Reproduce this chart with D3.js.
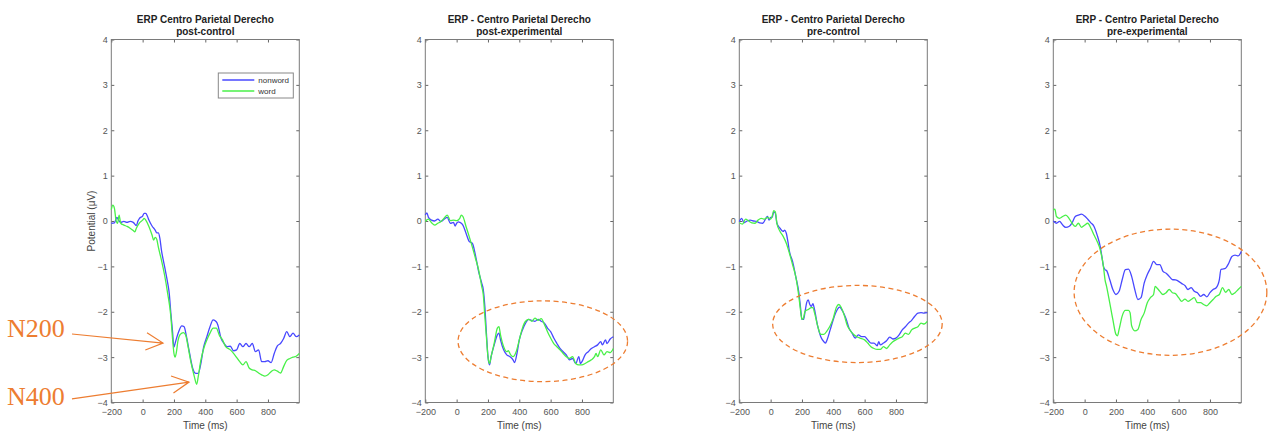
<!DOCTYPE html>
<html>
<head>
<meta charset="utf-8">
<script src="https://cdn.jsdelivr.net/npm/d3@7"></script>
<style>
  html, body { margin: 0; padding: 0; background: #fff; }
  svg { display: block; font-family: Arial, "Liberation Sans", Helvetica, sans-serif; }
</style>
</head>
<body>
<svg id="chart" width="1268" height="431"></svg>
<script>
// ---- data -------------------------------------------------------------
const titleLine1 = [
  "ERP Centro Parietal Derecho",
  "ERP - Centro Parietal Derecho",
  "ERP - Centro Parietal Derecho",
  "ERP - Centro Parietal Derecho"
];
const conditions = ["post-control", "post-experimental", "pre-control", "pre-experimental"];
const seriesNames = ["nonword", "word"];
const xTicks = [-200, 0, 200, 400, 600, 800];
const yTicks = [-4, -3, -2, -1, 0, 1, 2, 3, 4];
const timeDomain = [-200, 1000];
const potentialDomain = [-4, 4];

// [time (ms), potential (µV)]
const postControlNonword = [[-200,-0.05],[-180,-0.04],[-165,0.08],[-150,0.0],[-140,-0.03],[-120,-0.01],[-100,-0.03],[-80,-0.01],[-60,-0.03],[-40,-0.1],[-30,0.0],[-20,0.06],[0,0.11],[10,0.17],[20,0.17],[30,0.11],[40,0.02],[60,-0.11],[80,-0.2],[90,-0.26],[100,-0.26],[110,-0.38],[120,-0.64],[140,-1.0],[160,-1.37],[170,-1.6],[180,-2.03],[190,-2.4],[200,-2.78],[210,-2.66],[230,-2.44],[250,-2.31],[265,-2.33],[280,-2.55],[300,-2.92],[320,-3.25],[340,-3.36],[355,-3.36],[370,-3.17],[390,-2.77],[410,-2.55],[430,-2.33],[450,-2.18],[470,-2.22],[480,-2.29],[500,-2.58],[520,-2.7],[540,-2.77],[560,-2.76],[580,-2.86],[600,-2.84],[620,-2.7],[640,-2.77],[660,-2.7],[680,-2.77],[700,-2.7],[720,-2.88],[740,-2.84],[760,-3.1],[780,-3.1],[800,-3.08],[820,-3.12],[840,-2.92],[860,-2.75],[880,-2.7],[900,-2.59],[920,-2.44],[940,-2.55],[960,-2.47],[980,-2.55],[1000,-2.51]];
const postControlWord = [[-200,0.25],[-190,0.35],[-180,0.28],[-170,0.02],[-160,-0.05],[-150,0.13],[-140,-0.05],[-120,-0.09],[-100,-0.12],[-80,-0.16],[-60,-0.21],[-50,-0.24],[-40,-0.16],[-20,-0.04],[0,0.02],[10,0.06],[20,0.02],[40,-0.12],[60,-0.31],[70,-0.42],[80,-0.36],[90,-0.4],[100,-0.57],[120,-0.86],[140,-1.19],[160,-1.6],[180,-2.1],[190,-2.55],[200,-2.92],[207,-3.0],[215,-2.9],[225,-2.65],[240,-2.5],[260,-2.46],[275,-2.52],[290,-2.77],[310,-3.14],[330,-3.43],[345,-3.6],[355,-3.43],[370,-3.1],[390,-2.81],[410,-2.62],[430,-2.47],[450,-2.36],[470,-2.36],[490,-2.52],[510,-2.62],[530,-2.77],[560,-2.84],[590,-2.96],[620,-3.1],[640,-3.17],[660,-3.1],[680,-3.24],[700,-3.28],[720,-3.3],[740,-3.35],[760,-3.39],[780,-3.42],[800,-3.39],[820,-3.32],[840,-3.28],[860,-3.31],[880,-3.35],[900,-3.21],[920,-3.07],[940,-3.03],[960,-3.0],[980,-2.98],[1000,-2.92]];

const postExpNonword = [[-200,0.13],[-190,0.18],[-180,0.08],[-160,0.02],[-140,0.0],[-120,0.04],[-100,-0.01],[-80,0.04],[-60,0.08],[-40,-0.05],[-20,-0.03],[-10,-0.11],[0,-0.05],[10,-0.02],[20,-0.03],[40,-0.09],[60,-0.27],[80,-0.45],[100,-0.49],[120,-0.75],[140,-1.11],[160,-1.37],[170,-1.51],[180,-1.88],[190,-2.47],[200,-2.99],[210,-3.17],[220,-2.99],[240,-2.73],[260,-2.51],[270,-2.47],[280,-2.62],[300,-2.84],[320,-2.95],[340,-2.99],[360,-3.06],[370,-3.12],[385,-2.92],[400,-2.62],[420,-2.4],[440,-2.25],[460,-2.17],[480,-2.19],[500,-2.21],[520,-2.17],[540,-2.21],[560,-2.25],[580,-2.36],[600,-2.44],[620,-2.58],[640,-2.7],[660,-2.81],[680,-2.88],[700,-2.95],[720,-3.06],[740,-3.03],[760,-3.14],[780,-2.99],[790,-3.14],[800,-3.1],[820,-2.95],[840,-2.88],[860,-2.81],[880,-2.77],[900,-2.73],[920,-2.66],[930,-2.73],[950,-2.62],[960,-2.7],[980,-2.6],[1000,-2.55]];
const postExpWord = [[-200,-0.01],[-180,0.04],[-160,-0.04],[-140,-0.09],[-120,-0.05],[-100,-0.01],[-80,0.06],[-60,0.13],[-40,0.01],[-20,0.02],[0,0.01],[20,0.06],[30,0.13],[40,0.1],[60,-0.12],[80,-0.34],[100,-0.57],[120,-0.82],[140,-1.07],[160,-1.44],[170,-1.62],[180,-2.1],[190,-2.55],[200,-2.99],[210,-3.14],[220,-2.99],[240,-2.69],[260,-2.36],[270,-2.33],[280,-2.51],[300,-2.77],[320,-2.88],[330,-2.86],[345,-2.95],[360,-2.99],[380,-2.88],[400,-2.62],[420,-2.36],[440,-2.21],[460,-2.17],[480,-2.21],[500,-2.14],[520,-2.19],[540,-2.15],[560,-2.28],[580,-2.44],[600,-2.58],[620,-2.7],[640,-2.77],[660,-2.84],[680,-2.92],[700,-2.99],[720,-3.03],[740,-2.99],[760,-3.14],[780,-3.17],[800,-3.17],[820,-3.14],[840,-3.1],[860,-3.06],[880,-2.99],[890,-2.92],[900,-2.99],[920,-2.84],[940,-2.95],[960,-2.88],[980,-2.9],[1000,-2.81]];

const preControlNonword = [[-200,-0.01],[-185,0.06],[-170,-0.04],[-150,0.0],[-130,0.02],[-110,0.0],[-90,-0.01],[-70,-0.04],[-50,-0.05],[-30,0.06],[-20,0.1],[-10,0.02],[0,0.08],[10,0.08],[20,0.2],[30,0.17],[40,-0.05],[60,-0.16],[80,-0.23],[90,-0.2],[100,-0.27],[110,-0.45],[120,-0.67],[140,-0.89],[160,-1.22],[180,-1.58],[190,-1.88],[200,-2.17],[210,-2.17],[220,-1.99],[230,-1.8],[240,-1.74],[250,-1.84],[260,-1.88],[270,-1.82],[280,-1.95],[300,-2.31],[320,-2.55],[340,-2.66],[350,-2.69],[360,-2.62],[380,-2.4],[400,-2.17],[420,-1.99],[440,-1.9],[460,-1.99],[480,-2.14],[500,-2.36],[520,-2.47],[540,-2.58],[560,-2.51],[580,-2.55],[600,-2.55],[620,-2.62],[640,-2.69],[660,-2.69],[680,-2.75],[690,-2.66],[700,-2.73],[720,-2.69],[740,-2.64],[760,-2.56],[780,-2.6],[800,-2.58],[820,-2.51],[840,-2.4],[860,-2.33],[880,-2.25],[900,-2.19],[920,-2.1],[940,-2.03],[960,-2.02],[980,-2.03],[1000,-2.02]];
const preControlWord = [[-200,-0.04],[-180,-0.07],[-160,0.04],[-140,0.0],[-120,-0.04],[-100,-0.05],[-80,0.02],[-60,0.06],[-40,0.04],[-20,0.08],[0,0.04],[10,0.11],[20,0.23],[30,0.2],[40,-0.05],[60,-0.23],[80,-0.34],[100,-0.49],[120,-0.71],[140,-0.96],[160,-1.22],[180,-1.66],[190,-1.95],[200,-2.17],[210,-2.13],[220,-1.99],[240,-1.95],[260,-1.91],[270,-1.91],[280,-2.02],[300,-2.31],[320,-2.5],[340,-2.5],[360,-2.42],[380,-2.31],[400,-2.14],[420,-1.9],[435,-1.84],[450,-1.9],[470,-2.08],[490,-2.31],[510,-2.42],[530,-2.5],[550,-2.55],[570,-2.58],[600,-2.62],[620,-2.69],[640,-2.77],[660,-2.81],[680,-2.83],[700,-2.83],[720,-2.77],[740,-2.81],[760,-2.73],[780,-2.66],[800,-2.62],[820,-2.58],[840,-2.55],[860,-2.47],[880,-2.5],[900,-2.4],[920,-2.36],[940,-2.33],[960,-2.25],[980,-2.27],[1000,-2.21]];

const preExpNonword = [[-200,0.0],[-180,-0.05],[-160,-0.01],[-140,-0.09],[-120,-0.14],[-100,-0.12],[-80,-0.04],[-60,0.1],[-40,0.13],[-20,0.15],[0,0.11],[20,0.04],[40,-0.04],[60,-0.12],[80,-0.31],[100,-0.57],[110,-0.78],[120,-1.0],[130,-1.07],[140,-1.09],[160,-1.29],[180,-1.51],[200,-1.62],[220,-1.55],[240,-1.29],[260,-1.07],[280,-1.06],[300,-1.22],[320,-1.51],[340,-1.73],[360,-1.69],[380,-1.37],[400,-1.18],[420,-1.04],[440,-0.89],[460,-0.96],[480,-0.96],[500,-1.11],[520,-1.15],[540,-1.22],[560,-1.29],[580,-1.3],[600,-1.33],[620,-1.38],[640,-1.42],[660,-1.51],[680,-1.47],[700,-1.55],[720,-1.58],[740,-1.66],[760,-1.62],[780,-1.67],[800,-1.58],[820,-1.51],[840,-1.47],[860,-1.29],[870,-1.07],[880,-1.06],[900,-1.04],[920,-0.93],[940,-0.78],[960,-0.75],[980,-0.77],[1000,-0.67]];
const preExpWord = [[-200,0.24],[-190,0.26],[-180,0.1],[-160,0.06],[-140,0.1],[-120,0.13],[-100,0.06],[-80,-0.05],[-60,-0.12],[-40,-0.05],[-20,-0.14],[0,-0.09],[20,-0.05],[40,-0.16],[60,-0.31],[80,-0.45],[100,-0.64],[120,-1.0],[130,-1.29],[140,-1.44],[160,-1.8],[180,-2.17],[200,-2.5],[210,-2.53],[220,-2.39],[240,-2.09],[260,-1.97],[280,-1.97],[290,-2.02],[300,-2.31],[320,-2.42],[340,-2.39],[360,-2.17],[380,-2.03],[400,-1.8],[420,-1.69],[440,-1.62],[450,-1.44],[460,-1.47],[480,-1.55],[500,-1.62],[520,-1.58],[540,-1.51],[560,-1.58],[580,-1.6],[600,-1.69],[620,-1.77],[640,-1.72],[660,-1.77],[680,-1.73],[700,-1.69],[720,-1.8],[740,-1.8],[760,-1.84],[780,-1.87],[800,-1.8],[820,-1.73],[840,-1.66],[860,-1.62],[880,-1.47],[900,-1.57],[920,-1.51],[940,-1.62],[960,-1.58],[980,-1.51],[1000,-1.44]];

const panelSeries = [
  [postControlNonword, postControlWord],
  [postExpNonword, postExpWord],
  [preControlNonword, preControlWord],
  [preExpNonword, preExpWord]
];

// highlighted windows: [panel, centre ms, centre µV, half-width ms, half-height µV]
const highlightEllipses = [
  [1, 550, -2.65, 541, 0.89],
  [2, 554, -2.27, 541, 0.85],
  [3, 548, -1.57, 615, 1.39]
];
// component labels on the first panel: [text, label ms, label µV, tail ms, tail µV, tip ms, tip µV]
const componentArrows = [
  ["N200", -866, -2.56, -451, -2.49, 130, -2.69],
  ["N400", -866, -4.06, -451, -3.92, 296, -3.55]
];

// ---- layout -----------------------------------------------------------
const plotW = 188, plotTop = 39.5, plotBottom = 402.5;
const firstLeft = 111.3, panelStep = 314;
const lineColors = ["#4848ff", "#48f048"];
const accent = "#ED7D31";

const svg = d3.select("#chart");

panelSeries.forEach((series, i) => {
  const left = firstLeft + i * panelStep;
  const x = d3.scaleLinear().domain(timeDomain).range([left, left + plotW]);
  const y = d3.scaleLinear().domain(potentialDomain).range([plotBottom, plotTop]);
  const g = svg.append("g");

  // titles
  const cx = left + plotW / 2;
  g.append("text").attr("x", cx).attr("y", 22.5).attr("text-anchor", "middle")
    .attr("font-size", 10).attr("font-weight", "bold").attr("fill", "#222")
    .text(titleLine1[i]);
  g.append("text").attr("x", cx).attr("y", 35).attr("text-anchor", "middle")
    .attr("font-size", 10).attr("font-weight", "bold").attr("fill", "#222")
    .text(conditions[i]);

  // axes with inward ticks on all four sides
  const styleAxis = sel => {
    sel.select(".domain").remove();
    sel.selectAll(".tick line").attr("stroke", "#666");
    sel.selectAll(".tick text").attr("fill", "#555").attr("font-size", 9)
      .attr("font-family", "Arial, 'Liberation Sans', Helvetica, sans-serif");
  };
  g.append("g").attr("transform", `translate(0,${plotBottom})`)
    .call(d3.axisBottom(x).tickValues(xTicks).tickSizeInner(-3).tickSizeOuter(0).tickPadding(6))
    .call(styleAxis);
  g.append("g").attr("transform", `translate(0,${plotTop})`)
    .call(d3.axisTop(x).tickValues(xTicks).tickSizeInner(-3).tickSizeOuter(0).tickFormat(""))
    .call(styleAxis);
  g.append("g").attr("transform", `translate(${left},0)`)
    .call(d3.axisLeft(y).tickValues(yTicks).tickSizeInner(-3).tickSizeOuter(0).tickPadding(3.5))
    .call(styleAxis);
  g.append("g").attr("transform", `translate(${left + plotW},0)`)
    .call(d3.axisRight(y).tickValues(yTicks).tickSizeInner(-3).tickSizeOuter(0).tickFormat(""))
    .call(styleAxis);

  // box
  g.append("rect").attr("x", left).attr("y", plotTop)
    .attr("width", plotW).attr("height", plotBottom - plotTop)
    .attr("fill", "none").attr("stroke", "#7a7a7a").attr("stroke-width", 1);

  // axis labels
  g.append("text").attr("x", cx).attr("y", 429).attr("text-anchor", "middle")
    .attr("font-size", 10).attr("fill", "#444").text("Time (ms)");
  if (i === 0) {
    g.append("text")
      .attr("transform", `translate(95,${(plotTop + plotBottom) / 2}) rotate(-90)`)
      .attr("text-anchor", "middle").attr("font-size", 10).attr("fill", "#444")
      .text("Potential (μV)");
  }

  // waveforms
  const line = d3.line().x(d => x(d[0])).y(d => y(d[1])).curve(d3.curveMonotoneX);
  series.forEach((s, k) => {
    g.append("path").datum(s).attr("d", line)
      .attr("fill", "none").attr("stroke", lineColors[k])
      .attr("stroke-width", 1.3).attr("stroke-linejoin", "round");
  });

  // legend (first panel)
  if (i === 0) {
    const lx = left + plotW - 81, ly = 73;
    const lg = g.append("g");
    lg.append("rect").attr("x", lx).attr("y", ly).attr("width", 75).attr("height", 25)
      .attr("fill", "#fff").attr("stroke", "#888").attr("stroke-width", 1);
    seriesNames.forEach((name, k) => {
      const yy = ly + 7 + k * 11;
      lg.append("line").attr("x1", lx + 4).attr("x2", lx + 36).attr("y1", yy).attr("y2", yy)
        .attr("stroke", lineColors[k]).attr("stroke-width", 1.3);
      lg.append("text").attr("x", lx + 40).attr("y", yy + 3).attr("font-size", 8)
        .attr("fill", "#333").text(name);
    });
  }

  // highlighted windows
  highlightEllipses.filter(e => e[0] === i).forEach(e => {
    g.append("ellipse")
      .attr("cx", x(e[1])).attr("cy", y(e[2]))
      .attr("rx", x(e[1] + e[3]) - x(e[1])).attr("ry", y(e[2] - e[4]) - y(e[2]))
      .attr("fill", "none").attr("stroke", accent).attr("stroke-width", 1.3)
      .attr("stroke-dasharray", "5,3.5");
  });

  // component arrows
  if (i === 0) {
    componentArrows.forEach(a => {
      const [label, lt, lv, t0, v0, t1, v1] = a;
      g.append("text").attr("x", x(lt)).attr("y", y(lv))
        .attr("font-family", "'Liberation Serif', 'Times New Roman', serif")
        .attr("font-size", 26).attr("fill", accent).text(label);
      const x0 = x(t0), y0 = y(v0), x1 = x(t1), y1 = y(v1);
      const ang = Math.atan2(y1 - y0, x1 - x0);
      const arm = 19, spread = 27 * Math.PI / 180;
      const p = d3.path();
      p.moveTo(x0, y0); p.lineTo(x1, y1);
      p.moveTo(x1 - arm * Math.cos(ang - spread), y1 - arm * Math.sin(ang - spread));
      p.lineTo(x1, y1);
      p.lineTo(x1 - arm * Math.cos(ang + spread), y1 - arm * Math.sin(ang + spread));
      g.append("path").attr("d", p.toString()).attr("fill", "none")
        .attr("stroke", accent).attr("stroke-width", 1.2);
    });
  }
});
</script>
</body>
</html>
